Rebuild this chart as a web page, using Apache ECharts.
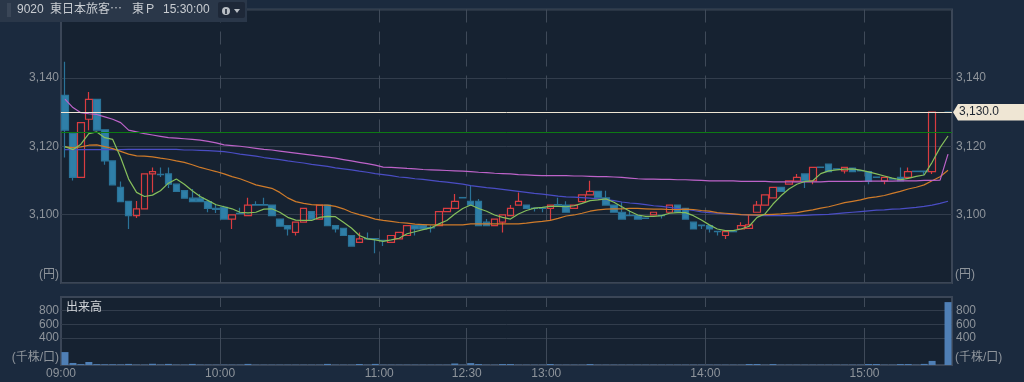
<!DOCTYPE html>
<html>
<head>
<meta charset="utf-8">
<style>
html, body { margin: 0; padding: 0; background: #1b2a3e; }
#main { width: 1024px; height: 382px; }
</style>
<script src="https://cdn.jsdelivr.net/npm/echarts@6/dist/echarts.min.js"></script>
</head>
<body>
<div id="main"></div>
<script>
// 3 minute bars, last one is the closing auction
const opens = [
    3134.9,3123.8,3110.9,3127.9,3133.7,3124.8,3115.7,3108,3103.9,3099.7,
    3101.7,3111.9,3111.8,3111.9,3108.9,3107,3104.8,3104.8,3103.8,3101.8,
    3102.1,3098.7,3100.4,3099.7,3102.9,3102.9,3102.8,3098.7,3096.8,3094.8,
    3097.8,3100.9,3098.7,3102.8,3096.8,3096,3093.9,3091.9,3093,3093,
    3092.5,3091.9,3092.9,3093.9,3096.8,3096.8,3096.2,3096.8,3100.9,3101.8,
    3105,3103.9,3103.9,3097.8,3096.8,3097.8,3099.7,3102.8,3102.8,3101.9,
    3101.9,3101.8,3102.9,3102.8,3101.8,3103.8,3105.8,3106.8,3104.9,3102.8,
    3100.7,3099.8,3099.7,3099,3099.9,3099.8,3100.7,3102.8,3101.8,3097.8,
    3096.9,3096.8,3095.1,3093.9,3095.1,3095.8,3096,3100.7,3102.8,3104.9,
    3108,3108.9,3109.8,3111.9,3109.9,3113.9,3114.8,3113.4,3112.8,3113.6,
    3112.9,3112.6,3111,3109.9,3110.5,3110.9,3110.9,3112.7,3112.7,3112.6,
    null,3130
];
const closes = [
    3124.7,3110.9,3126.9,3133.7,3124.7,3115.7,3108.7,3103.8,3099.7,3101.7,
    3111.9,3112.6,3111.7,3108.9,3106.8,3104.8,3103.8,3103.8,3101.8,3101.5,
    3098.7,3099.9,3100.3,3102.8,3102.8,3102.8,3099.7,3096.6,3095.8,3097.8,
    3101.8,3098.7,3102.8,3096.8,3095.8,3093.9,3090.8,3092.9,3092.9,3092.9,
    3092.4,3093.9,3094.8,3096.8,3095.8,3095.8,3096.1,3100.9,3101.8,3103.9,
    3104.9,3102.8,3096.8,3096.8,3098.7,3099.9,3101.8,3103.9,3101.8,3101.8,
    3101.8,3102.8,3102.8,3100.7,3102.8,3105.8,3106.8,3104.9,3102.8,3100.7,
    3098.7,3099.7,3098.7,3098.9,3100.7,3099.7,3102.8,3100.7,3098.7,3095.8,
    3096.8,3095.8,3095,3095,3095,3096.8,3097,3102.8,3105.8,3108,
    3106.8,3109.9,3110.9,3109.9,3113.8,3113.8,3112.6,3113.3,3113.8,3112.6,
    3112.8,3109.7,3110.9,3110.9,3110.4,3109.9,3112.6,3112.6,3112.6,3130,
    null,3130
];
const lows = [
    3116.7,3110,3110.9,3124.7,3124.7,3114.6,3108.7,3103.8,3095.8,3099,
    3101.7,3106.5,3111,3107.8,3106.8,3104.8,3103.8,3103.8,3100.7,3100.5,
    3098.7,3095.8,3100.3,3099.7,3102.8,3102.8,3099.7,3096.6,3093.9,3093.9,
    3097.8,3098.7,3098.7,3096.8,3094.8,3093.9,3090.8,3091.9,3092.9,3088.7,
    3090.8,3091.9,3092.9,3093.9,3093.9,3095.8,3094.8,3096.8,3100.9,3101.8,
    3104.9,3102.8,3096.8,3096.8,3096.8,3094.8,3099.7,3102.8,3101.8,3100.9,
    3100.7,3098.2,3102.8,3100.7,3101.8,3103.8,3105.8,3104.9,3102.8,3100.7,
    3098.7,3099.7,3098.7,3098.9,3099.9,3098.9,3100.7,3100.7,3098.7,3095.8,
    3095.8,3094.8,3093.9,3092.9,3095,3095.8,3096,3100.7,3102.8,3104.9,
    3106.8,3108.9,3109.8,3107.8,3108.9,3113.8,3112.6,3113.3,3112,3112.6,
    3112.8,3108.9,3110.9,3108.9,3110.4,3109.9,3110.9,3112.6,3111.6,3111.9,
    null,3130
];
const highs = [
    3144.7,3123.8,3126.9,3135.9,3133.7,3124.8,3115.7,3109.7,3103.9,3104,
    3111.9,3113.8,3113.8,3113.8,3108.9,3107,3107.5,3106,3103.8,3102.9,
    3102.6,3099.9,3102,3104.9,3103.9,3104.9,3102.8,3098.7,3096.8,3097.8,
    3101.8,3100.9,3102.8,3102.8,3096.8,3096,3093.9,3094.8,3094.8,3093,
    3092.5,3093.9,3094.8,3096.8,3096.8,3096.8,3096.8,3100.9,3101.8,3106,
    3105,3108.6,3104.6,3098.7,3098.7,3099.9,3102.8,3106.5,3102.8,3101.9,
    3101.9,3102.8,3104.9,3103.9,3102.8,3105.8,3109.9,3106.8,3107,3102.8,
    3103.6,3101.2,3099.7,3099,3100.7,3099.8,3102.8,3102.8,3101.8,3097.8,
    3096.9,3096.8,3095.1,3095,3095.1,3097.8,3100,3104,3105.8,3108,
    3108,3109.9,3111.9,3111.9,3113.8,3113.9,3114.8,3113.4,3113.8,3113.6,
    3112.9,3112.6,3111,3110.9,3110.5,3113.8,3113.8,3112.7,3112.7,3130,
    null,3130
];
const maPink = [
    3133.8,3131.3,3129.8,3129.5,3129.3,3128.6,3127.9,3126.9,3124.7,3124.2,
    3123.7,3123.3,3122.9,3122.5,3122.4,3122.2,3122,3121.8,3121.4,3121,
    3120.4,3120.2,3120,3119.7,3119.4,3119.1,3118.9,3118.6,3118.3,3118,
    3117.7,3117.4,3117.1,3116.8,3116.5,3116.1,3115.7,3115.3,3114.9,3114.5,
    3113.9,3113.8,3113.7,3113.5,3113.4,3113.2,3113.1,3113,3112.9,3112.8,
    3112.7,3112.6,3112.4,3112.3,3112.1,3112,3111.9,3111.7,3111.6,3111.5,
    3111.4,3111.4,3111.4,3111.4,3111.3,3111.3,3111.2,3111.1,3111.1,3111,
    3110.9,3110.7,3110.5,3110.4,3110.4,3110.3,3110.3,3110.2,3110.2,3110.1,
    3110,3109.9,3109.9,3109.9,3109.9,3109.7,3109.7,3109.7,3109.7,3109.6,
    3109.6,3109.6,3109.6,3109.6,3109.6,3109.6,3109.7,3109.7,3109.7,3109.7,
    3109.7,3109.8,3109.8,3109.8,3109.8,3109.9,3109.9,3109.9,3110,3110,
    3110.1,3117.7
];
const maBlue = [
    3119,3119,3119,3119,3119,3119,3119,3119,3119.1,3119.1,
    3119.1,3119.1,3119.1,3119.1,3119.1,3118.9,3118.9,3118.8,3118.7,3118.6,
    3118.4,3118.1,3117.7,3117.4,3117.1,3116.7,3116.4,3116.1,3115.7,3115.4,
    3115.1,3114.7,3114.4,3114.1,3113.7,3113.4,3113.1,3112.7,3112.4,3112,
    3111.7,3111.4,3111,3110.8,3110.5,3110.3,3110,3109.7,3109.5,3109.2,
    3108.9,3108.5,3108.2,3107.9,3107.7,3107.4,3107.1,3106.8,3106.5,3106.2,
    3106,3105.7,3105.4,3105.2,3105.1,3105,3104.8,3104.6,3104.4,3104.1,
    3103.7,3103.4,3103.2,3102.9,3102.6,3102.4,3102.1,3101.8,3101.5,3101.2,
    3100.8,3100.6,3100.4,3100.2,3100.1,3100,3099.9,3099.8,3099.7,3099.7,
    3099.7,3099.7,3099.7,3099.8,3099.9,3100,3100.1,3100.3,3100.5,3100.7,
    3100.9,3101.1,3101.3,3101.4,3101.6,3101.7,3101.9,3102.1,3102.4,3102.8,
    3103.3,3103.9
];
const maOrange = [
    3119.8,3119.6,3119.8,3120.3,3120.4,3119.9,3119.3,3118.5,3117.7,3117.2,
    3117.1,3116.9,3116.5,3116.2,3115.7,3115.3,3114.6,3113.8,3113.2,3112.6,
    3111.9,3111.1,3110.5,3109.6,3108.7,3108.2,3107.7,3106.5,3104.9,3103.8,
    3103.3,3102.9,3102.8,3102.8,3102.4,3101.7,3100.7,3100,3099.4,3098.7,
    3098.3,3098,3097.7,3097.5,3097.2,3097.1,3097,3097,3097,3097,
    3097,3097.3,3097.3,3097.3,3097.3,3097.3,3097.3,3097.3,3097.5,3097.8,
    3098,3098.3,3098.9,3099.6,3099.9,3100.4,3101,3101.4,3101.6,3101.7,
    3101.7,3101.8,3101.8,3101.7,3101.6,3101.6,3101.5,3101.5,3101.6,3101.5,
    3101.2,3101,3100.6,3100.4,3100.2,3100,3099.9,3099.9,3100,3100.1,
    3100.2,3100.4,3100.6,3101,3101.4,3101.9,3102.3,3102.9,3103.5,3103.9,
    3104.3,3104.9,3105.2,3105.6,3106.2,3106.8,3107.5,3108,3108.7,3109.9,
    3111.1,3113
];
const maGreen = [
    3119.9,3119,3120.6,3123.7,3124.2,3122.5,3122,3116.7,3110.4,3106.5,
    3105.3,3105.7,3107,3109.2,3110.4,3108.9,3107,3105.3,3104.1,3102.9,
    3102.3,3101.7,3100.7,3100.5,3100.7,3101.6,3101.7,3100.7,3099.2,3098.4,
    3098.3,3098.3,3099.2,3099.5,3099.4,3097.8,3096.1,3093.9,3092.9,3092.6,
    3092.2,3092.6,3093.1,3094.4,3095,3095.6,3096.1,3097.3,3098.3,3100.2,
    3101.8,3102.8,3101.8,3101,3099.9,3099.2,3098.7,3100.2,3101.2,3101.9,
    3102.1,3102.4,3102.4,3102.3,3102.6,3103.3,3104.1,3104.3,3104.6,3103.6,
    3102.3,3101,3099.9,3099.5,3099.5,3099.7,3100.4,3100.6,3100.6,3099.7,
    3098.4,3097,3095.8,3095.3,3095.3,3095.8,3096.6,3099.2,3100.2,3103.1,
    3105.5,3107.5,3108.9,3109.7,3109.9,3112,3112.8,3113.1,3113.3,3113.4,
    3113,3112.5,3111.9,3111.3,3110.7,3110.2,3110.6,3111.2,3111.6,3115.3,
    3119.6,3123
];
const volumes = [
    190,30,12,44,12,10,10,8,16,5,
    5,18,6,16,5,5,16,5,4,4,
    4,4,4,16,4,4,4,4,4,4,
    4,4,4,16,4,4,4,15,4,16,
    4,4,4,4,4,4,4,4,4,22,
    4,28,14,4,4,14,14,4,4,4,
    4,15,4,4,4,4,14,4,4,4,
    4,4,4,4,4,4,4,4,4,4,
    4,4,4,4,4,4,15,15,4,14,
    4,4,4,4,4,4,4,4,4,4,
    4,14,14,4,4,14,14,4,16,60,
    0,925
];
const tickLabels = ['09:00', '10:00', '11:00', '12:30', '13:00', '14:00', '15:00'];
const lastPrice = 3130;
const greenLevel = 3124;

const barCount = volumes.length;
const barIndex = [];
for (let i = 0; i < barCount; i++) barIndex.push(i);

// band edges, one more than the bars, so that the time labels sit between bars
const timeEdges = [];
for (let i = 0; i <= barCount; i++) {
    const mins = i <= 50 ? 540 + i * 3 : 750 + (i - 51) * 3;
    const h = Math.floor(mins / 60);
    const m = mins % 60;
    timeEdges.push((h < 10 ? '0' : '') + h + ':' + (m < 10 ? '0' : '') + m);
}
const candles = barIndex.map(i => opens[i] === null ? ['-', '-', '-', '-'] : [opens[i], closes[i], lows[i], highs[i]]);

const FONT = '"Liberation Sans", "Noto Sans CJK JP", sans-serif';
const GREY = '#8e949b';
const showTick = (idx, value) => tickLabels.indexOf(value) >= 0;
const innerTick = (idx, value) => tickLabels.indexOf(value) > 0;
const priceLabel = v => (v === 3080 || v === 3160) ? '' : echarts.format.addCommas(v);
const volumeLabel = v => (v >= 400 && v <= 800) ? String(v) : '';

function maSeries(data, color) {
    return {
        type: 'line', data: data, xAxisIndex: 0, yAxisIndex: 0,
        showSymbol: false, symbol: 'none', silent: true, z: 4,
        lineStyle: { color: color, width: 1.2 }
    };
}

function yText(text, x, y, align, color) {
    return {
        type: 'text', x: x, y: y, z: 20,
        style: { text: text, fill: color || GREY, font: '12px ' + FONT, align: align, verticalAlign: 'middle' }
    };
}

const option = {
    animation: false,
    backgroundColor: '#1b2a3e',
    textStyle: { fontFamily: FONT },
    grid: [
        { left: 61, right: 72, top: 9.5, height: 273.5, show: true, backgroundColor: '#162231', borderColor: '#3b4657', borderWidth: 2 },
        { left: 61, right: 72, top: 297, height: 68, show: true, backgroundColor: '#162231', borderColor: '#3b4657', borderWidth: 2 }
    ],
    xAxis: [
        { type: 'category', gridIndex: 0, data: barIndex, show: false },
        { type: 'category', gridIndex: 1, data: barIndex, show: false },
        {
            type: 'category', gridIndex: 0, data: timeEdges, boundaryGap: false, position: 'bottom',
            axisLine: { show: false }, axisTick: { show: false }, axisLabel: { show: false },
            splitLine: { show: true, interval: innerTick, lineStyle: { color: '#3f4a59', width: 1, type: [13, 9] } }
        },
        {
            type: 'category', gridIndex: 1, data: timeEdges, boundaryGap: false, position: 'bottom',
            axisLine: { show: false }, axisTick: { show: false },
            axisLabel: { interval: showTick, color: GREY, fontSize: 12, margin: 3, hideOverlap: false, showMinLabel: true },
            splitLine: { show: true, interval: innerTick, lineStyle: { color: '#3f4a59', width: 1, type: [10, 21, 40, 10] } }
        }
    ],
    yAxis: [
        {
            type: 'value', gridIndex: 0, min: 3080, max: 3160, interval: 20, position: 'left',
            axisLine: { show: false }, axisTick: { show: false },
            axisLabel: { color: GREY, fontSize: 12, margin: 2, formatter: priceLabel },
            splitLine: { show: true, lineStyle: { color: '#323d4c' } }
        },
        {
            type: 'value', gridIndex: 0, min: 3080, max: 3160, interval: 20, position: 'right',
            axisLine: { show: false }, axisTick: { show: false },
            axisLabel: { color: GREY, fontSize: 12, margin: 4, formatter: priceLabel },
            splitLine: { show: false }
        },
        {
            type: 'value', gridIndex: 1, min: 0, max: 1000, interval: 200, position: 'left',
            axisLine: { show: false }, axisTick: { show: false },
            axisLabel: { color: GREY, fontSize: 12, margin: 2, formatter: volumeLabel },
            splitLine: { show: true, lineStyle: { color: ['transparent', 'transparent', '#323d4c', '#323d4c', '#323d4c', 'transparent'] } }
        },
        {
            type: 'value', gridIndex: 1, min: 0, max: 1000, interval: 200, position: 'right',
            axisLine: { show: false }, axisTick: { show: false },
            axisLabel: { color: GREY, fontSize: 12, margin: 4, formatter: volumeLabel },
            splitLine: { show: false }
        }
    ],
    series: [
        {
            type: 'candlestick', data: candles, xAxisIndex: 0, yAxisIndex: 0, barWidth: 7, z: 3,
            itemStyle: { color: 'transparent', color0: '#2f7fa8', borderColor: '#d93c40', borderColor0: '#2a7398', borderWidth: 1.2 },
            markLine: {
                silent: true, symbol: 'none', label: { show: false }, animation: false,
                data: [
                    { yAxis: greenLevel, lineStyle: { color: '#0d7a14', width: 1, type: 'solid' } },
                    { yAxis: lastPrice, lineStyle: { color: '#efe6d4', width: 1, type: 'solid' } }
                ]
            }
        },
        maSeries(maBlue, '#4a4dc4'),
        maSeries(maOrange, '#cf7b2a'),
        maSeries(maPink, '#bd63c9'),
        maSeries(maGreen, '#86bf5c'),
        {
            type: 'bar', data: volumes, xAxisIndex: 1, yAxisIndex: 2, barWidth: 7, z: 3,
            itemStyle: { color: '#4f7fb5' }
        }
    ],
    graphic: [
        // header strip
        { type: 'rect', z: 10, shape: { x: 0, y: 0, width: 247, height: 22 }, style: { fill: '#2a3749' } },
        { type: 'rect', z: 11, shape: { x: 7, y: 3, width: 4, height: 14 }, style: { fill: '#3a4657' } },
        yText('9020', 17, 10, 'left', '#c9cdd2'),
        yText('東日本旅客⋯', 50, 10, 'left', '#c9cdd2'),
        yText('東Ｐ', 132, 10, 'left', '#c9cdd2'),
        yText('15:30:00', 163, 10, 'left', '#c9cdd2'),
        { type: 'rect', z: 11, shape: { x: 218, y: 2, width: 27, height: 16, r: 2 }, style: { fill: '#1e2838' } },
        { type: 'circle', z: 12, shape: { cx: 226, cy: 11, r: 4 }, style: { fill: '#b9bec4' } },
        { type: 'rect', z: 13, shape: { x: 225.2, y: 9, width: 1.6, height: 5 }, style: { fill: '#1e2838' } },
        { type: 'polygon', z: 12, shape: { points: [[234, 9], [240, 9], [237, 13]] }, style: { fill: '#b9bec4' } },
        // unit captions
        yText('(円)', 59, 275, 'right'),
        yText('(円)', 955, 275, 'left'),
        yText('(千株/口)', 59, 358, 'right'),
        yText('(千株/口)', 955, 358, 'left'),
        yText('出来高', 66, 308, 'left', '#d3d6da'),
        // last price tag
        { type: 'polygon', z: 15, shape: { points: [[953, 112.3], [958, 104], [1024, 104], [1024, 120.5], [958, 120.5]] }, style: { fill: '#efe6d4' } },
        yText(echarts.format.addCommas(lastPrice.toFixed(1)), 959, 112, 'left', '#1d2530')
    ]
};

const myChart = echarts.init(document.getElementById('main'), null, { renderer: 'canvas' });
myChart.setOption(option);
</script>
</body>
</html>
